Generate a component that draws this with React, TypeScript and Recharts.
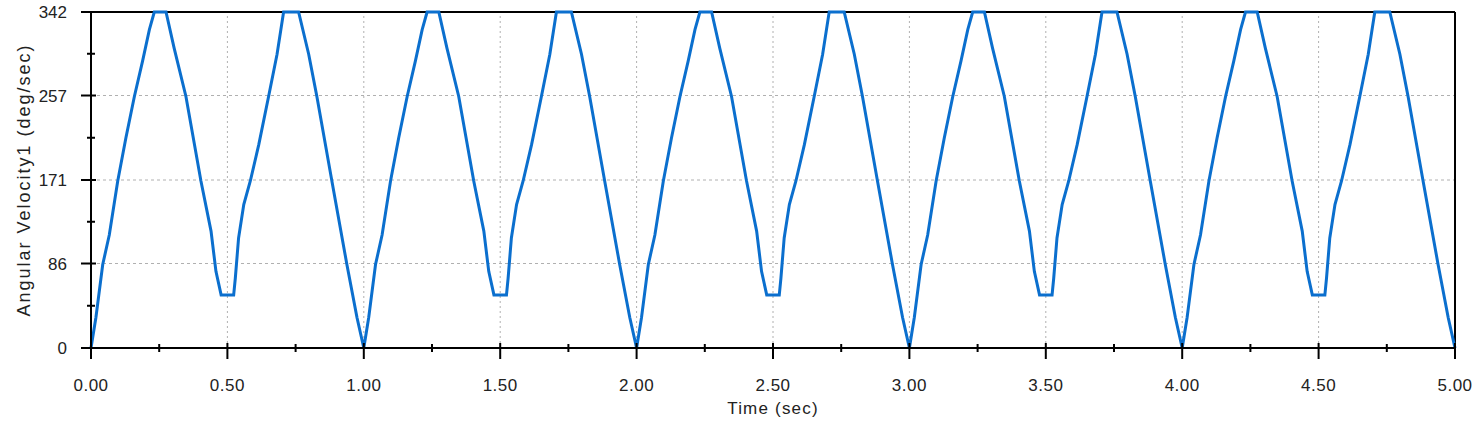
import { LineChart, Line, XAxis, YAxis, ReferenceLine } from "recharts";

// one 1-second cycle (time in sec, deg/sec)
const CYCLE_T = [
  0, 0.018, 0.043, 0.067, 0.098, 0.128, 0.159, 0.189, 0.214, 0.232, 0.275,
  0.305, 0.348, 0.403, 0.44, 0.458, 0.477, 0.523, 0.529, 0.541, 0.56, 0.584,
  0.615, 0.651, 0.682, 0.706, 0.761, 0.798, 0.828, 0.883, 0.938, 0.975, 1.0,
];
const CYCLE_V = [
  0, 31, 85, 115, 170, 214, 256, 292, 324, 342, 342,
  305, 256, 170, 119, 78, 54, 54, 71, 112, 146, 170,
  207, 256, 299, 342, 342, 299, 256, 170, 85, 31, 0,
];
const CYCLES = [0, 1, 2, 3, 4];

const X_TICKS = [
  0, 0.25, 0.5, 0.75, 1, 1.25, 1.5, 1.75, 2, 2.25, 2.5, 2.75, 3, 3.25, 3.5,
  3.75, 4, 4.25, 4.5, 4.75, 5,
];
const X_GRID = [0.5, 1, 1.5, 2, 2.5, 3, 3.5, 4, 4.5];
const Y_TICKS = [0, 43, 86, 128.5, 171, 214, 257, 299.5, 342];
const Y_LABELED = [0, 86, 171, 257, 342];
const Y_GRID = [86, 171, 257];

const data = CYCLES.flatMap((k) =>
  CYCLE_T.map((t, i) => ({ t: +(k + t).toFixed(3), v: CYCLE_V[i] })).filter(
    (_, i) => k === 0 || i > 0
  )
);

const FONT = "'Liberation Sans', Arial, sans-serif";
const TEXT = "#222";
const GRID = "#b0b0b0";

function XTick({ x, y, payload }: any) {
  const v = payload.value as number;
  const major = Math.round(v * 4) % 2 === 0;
  return (
    <g>
      <line
        x1={x}
        x2={x}
        y1={major ? y - 5 : y - 4}
        y2={major ? y + 11 : y + 4}
        stroke="#000"
        strokeWidth={2}
      />
      {major && (
        <text x={x} y={y + 43} textAnchor="middle" fontFamily={FONT} fontSize={17} fill={TEXT} letterSpacing={0.5}>
          {v.toFixed(2)}
        </text>
      )}
    </g>
  );
}

function YTick({ x, y, payload }: any) {
  const v = payload.value as number;
  const major = Y_LABELED.includes(v);
  return (
    <g>
      <line
        x1={major ? x - 10 : x - 4}
        x2={major ? x + 5 : x + 4}
        y1={y}
        y2={y}
        stroke="#000"
        strokeWidth={2}
      />
      {major && (
        <text x={x - 24} y={y + 6} textAnchor="end" fontFamily={FONT} fontSize={17} fill={TEXT}>
          {v}
        </text>
      )}
    </g>
  );
}

export default function App() {
  return (
    <div style={{ position: "absolute", left: 0, top: 0 }}>
      <LineChart
        width={1478}
        height={426}
        data={data}
        margin={{ top: 12, right: 23, bottom: 18, left: 16 }}
      >
        {X_GRID.map((g) => (
          <ReferenceLine key={"x" + g} x={g} stroke={GRID} strokeDasharray="2 3" />
        ))}
        {Y_GRID.map((g) => (
          <ReferenceLine key={"y" + g} y={g} stroke={GRID} strokeDasharray="3 3" />
        ))}
        <ReferenceLine y={342} stroke="#000" strokeWidth={2} />
        <ReferenceLine x={5} stroke="#000" strokeWidth={2} />
        <XAxis
          dataKey="t"
          type="number"
          domain={[0, 5]}
          ticks={X_TICKS}
          interval={0}
          height={60}
          tickSize={0}
          tickMargin={0}
          tick={<XTick />}
          axisLine={{ stroke: "#000", strokeWidth: 2 }}
          label={{
            content: ({ viewBox }: any) => (
              <text
                x={viewBox.x + viewBox.width / 2}
                y={viewBox.y + 66}
                textAnchor="middle"
                fontFamily={FONT}
                fontSize={17}
                fill={TEXT}
                letterSpacing={1.2}
              >
                Time (sec)
              </text>
            ),
          }}
        />
        <YAxis
          type="number"
          domain={[0, 342]}
          ticks={Y_TICKS}
          interval={0}
          width={75}
          tickSize={0}
          tickMargin={0}
          tick={<YTick />}
          axisLine={{ stroke: "#000", strokeWidth: 2 }}
          label={{
            content: ({ viewBox }: any) => {
              const cx = viewBox.x + 8;
              const cy = viewBox.y + viewBox.height / 2;
              return (
                <text
                  x={cx}
                  y={cy}
                  transform={`rotate(-90, ${cx}, ${cy})`}
                  textAnchor="middle"
                  dominantBaseline="central"
                  fontFamily={FONT}
                  fontSize={18}
                  fill={TEXT}
                  letterSpacing={2}
                >
                  Angular Velocity1 (deg/sec)
                </text>
              );
            },
          }}
        />
        <Line
          type="linear"
          dataKey="v"
          stroke="#0b6fce"
          strokeWidth={3}
          dot={false}
          activeDot={false}
          isAnimationActive={false}
        />
      </LineChart>
    </div>
  );
}
